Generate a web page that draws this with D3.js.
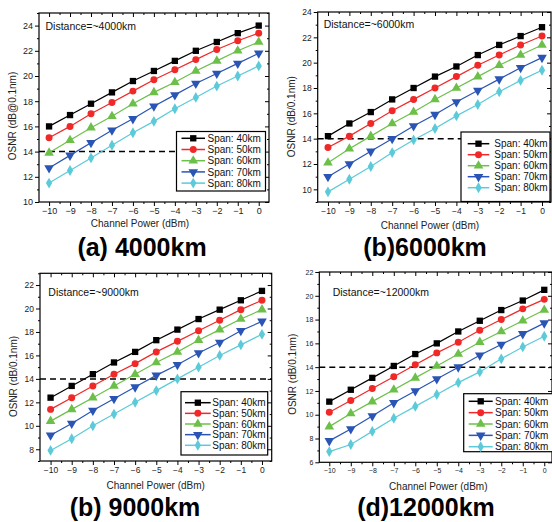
<!DOCTYPE html>
<html>
<head>
<meta charset="utf-8">
<script src="https://cdn.jsdelivr.net/npm/d3@7"></script>
<style>
  body { margin: 0; background: #fff; }
  text { font-family: "Liberation Sans", Arial, sans-serif; }
</style>
</head>
<body>
<script>
// channel power (dBm), same for all four plots
var power = [-10, -9, -8, -7, -6, -5, -4, -3, -2, -1, 0];
var spanNames = ["Span: 40km", "Span: 50km", "Span: 60km", "Span: 70km", "Span: 80km"];
var spanColors = ["#000000", "#f02828", "#6cc04a", "#2a55b4", "#5ccad8"];

// OSNR values per span (40,50,60,70,80 km)
var osnr4000 = [
  [16.0, 16.9, 17.8, 18.7, 19.6, 20.4, 21.2, 22.0, 22.7, 23.4, 24.0],
  [15.1, 16.0, 17.0, 17.9, 18.8, 19.7, 20.5, 21.3, 22.1, 22.8, 23.4],
  [13.9, 14.9, 15.9, 16.8, 17.8, 18.7, 19.5, 20.4, 21.2, 22.0, 22.7],
  [12.7, 13.7, 14.7, 15.7, 16.6, 17.6, 18.5, 19.4, 20.2, 21.0, 21.8],
  [11.5, 12.5, 13.5, 14.5, 15.5, 16.4, 17.4, 18.3, 19.2, 20.0, 20.8]
];
var osnr6000 = [
  [14.2, 15.2, 16.1, 17.1, 18.0, 18.9, 19.7, 20.6, 21.4, 22.1, 22.8],
  [13.3, 14.2, 15.2, 16.2, 17.1, 18.0, 18.9, 19.8, 20.6, 21.4, 22.1],
  [12.1, 13.2, 14.2, 15.2, 16.1, 17.1, 18.0, 18.9, 19.8, 20.6, 21.4],
  [11.0, 12.0, 13.0, 14.0, 15.0, 15.9, 16.9, 17.8, 18.7, 19.6, 20.4],
  [9.8, 10.8, 11.8, 12.9, 13.9, 14.8, 15.8, 16.7, 17.7, 18.6, 19.4]
];
var osnr9000 = [
  [12.4, 13.4, 14.4, 15.4, 16.3, 17.3, 18.2, 19.1, 19.9, 20.7, 21.5],
  [11.4, 12.4, 13.4, 14.4, 15.3, 16.3, 17.2, 18.1, 19.0, 19.9, 20.7],
  [10.4, 11.4, 12.4, 13.4, 14.4, 15.4, 16.3, 17.3, 18.2, 19.1, 19.9],
  [9.2, 10.2, 11.3, 12.3, 13.3, 14.3, 15.2, 16.2, 17.1, 18.1, 18.9],
  [7.9, 8.9, 10.0, 11.0, 12.0, 13.0, 14.0, 15.0, 16.0, 16.9, 17.8]
];
var osnr12000 = [
  [11.1, 12.1, 13.1, 14.1, 15.1, 16.0, 17.0, 17.9, 18.8, 19.6, 20.5],
  [10.2, 11.2, 12.2, 13.2, 14.2, 15.2, 16.1, 17.1, 18.0, 18.9, 19.7],
  [9.0, 10.1, 11.1, 12.1, 13.1, 14.1, 15.1, 16.1, 17.0, 17.9, 18.8],
  [7.8, 8.8, 9.9, 11.0, 12.0, 13.0, 14.0, 15.0, 15.9, 16.8, 17.7],
  [6.9, 7.5, 8.6, 9.7, 10.7, 11.7, 12.7, 13.6, 14.7, 15.7, 16.6]
];

var yTicks4000 = [10, 12, 14, 16, 18, 20, 22, 24];
var yTicks6000 = [10, 12, 14, 16, 18, 20, 22, 24];
var yTicks9000 = [8, 10, 12, 14, 16, 18, 20, 22];
var yTicks12000 = [6, 8, 10, 12, 14, 16, 18, 20, 22];

var threshold = 14;

var panels = [
  {data: osnr4000, yTicks: yTicks4000, yDom: [10, 25], xDom: [-10.48, 0.49],
   L: 39, R: 269, T: 13, B: 202, tickFont: 9,
   dist: "Distance=~4000km", distX: 45.5, distY: 30,
   yTitle: "OSNR (dB@0.1nm)", yTitleX: 12.5, yTitleY: 116,
   xTitleX: 140, xTitleY: 227,
   leg: {x: 176.5, y: 131.5, w: 89, h: 59.5, y0: 138.3, dy: 11.2, l0: 181.5, l1: 205, tx: 207.5},
   title: "(a) 4000km", titleX: 142, titleY: 255.5},
  {data: osnr6000, yTicks: yTicks6000, yDom: [9, 24], xDom: [-10.48, 0.42],
   L: 317.7, R: 551, T: 12, B: 202, tickFont: 8.5,
   dist: "Distance=~6000km", distX: 323.7, distY: 27.5,
   yTitle: "OSNR (dB/0.1nm)", yTitleX: 291, yTitleY: 116.7,
   xTitleX: 430, xTitleY: 229,
   leg: {x: 461, y: 132, w: 89, h: 69.5, y0: 143.7, dy: 11, l0: 467.7, l1: 489.3, tx: 494.3},
   title: "(b)6000km", titleX: 425, titleY: 255.5},
  {data: osnr9000, yTicks: yTicks9000, yDom: [7, 23], xDom: [-10.5, 0.46],
   L: 40, R: 271.7, T: 273.3, B: 461, tickFont: 8.5,
   dist: "Distance=~9000km", distX: 48.3, distY: 295.5,
   yTitle: "OSNR (dB/0.1nm)", yTitleX: 13.3, yTitleY: 376.5,
   xTitleX: 155.7, xTitleY: 489,
   leg: {x: 181, y: 391.7, w: 86.7, h: 63.3, y0: 402.7, dy: 10.65, l0: 185, l1: 210.7, tx: 212.3},
   title: "(b) 9000km", titleX: 135, titleY: 515.5},
  {data: osnr12000, yTicks: yTicks12000, yDom: [6, 22], xDom: [-10.465, 0.36],
   L: 319.3, R: 552, T: 272, B: 462.3, tickFont: 7,
   dist: "Distance=~12000km", distX: 332.7, distY: 296,
   yTitle: "OSNR (dB/0.1nm)", yTitleX: 292.7, yTitleY: 374.3,
   xTitleX: 438.3, xTitleY: 489.5,
   leg: {x: 463.7, y: 393.7, w: 90, h: 58, y0: 401.3, dy: 11.35, l0: 468.7, l1: 492.7, tx: 495},
   title: "(d)12000km", titleX: 426, titleY: 515.5}
];

var symbols = [
  d3.symbol().type(d3.symbolSquare).size(40),
  d3.symbol().type(d3.symbolCircle).size(38),
  d3.symbol().type(d3.symbolTriangle).size(40),
  d3.symbol().type(d3.symbolTriangle).size(40),
  d3.symbol().type(d3.symbolDiamond).size(34)
];
var symbolRot = [0, 0, 0, 180, 0];

var svg = d3.select("body").append("svg")
  .attr("width", 552).attr("height", 522);

function drawPanel(p) {
  var g = svg.append("g");
  var x = d3.scaleLinear().domain(p.xDom).range([p.L, p.R]);
  var y = d3.scaleLinear().domain(p.yDom).range([p.B, p.T]);

  var xMinor = power.slice(1).map(function(v) { return v - 0.5; });
  var yMinor = p.yTicks.map(function(v) { return v + 1; })
    .filter(function(v) { return v <= p.yDom[1]; });
  if (p.yTicks[0] - 1 >= p.yDom[0]) yMinor.push(p.yTicks[0] - 1);

  // axes: major + minor ticks on all four sides
  var axes = [
    [d3.axisBottom(x).tickValues(power).tickSize(4).tickPadding(2), "translate(0," + p.B + ")", true],
    [d3.axisBottom(x).tickValues(xMinor).tickSize(2).tickFormat(""), "translate(0," + p.B + ")", false],
    [d3.axisTop(x).tickValues(power).tickSize(-4).tickFormat(""), "translate(0," + p.T + ")", false],
    [d3.axisTop(x).tickValues(xMinor).tickSize(-2).tickFormat(""), "translate(0," + p.T + ")", false],
    [d3.axisLeft(y).tickValues(p.yTicks).tickSize(4).tickPadding(2), "translate(" + p.L + ",0)", true],
    [d3.axisLeft(y).tickValues(yMinor).tickSize(2).tickFormat(""), "translate(" + p.L + ",0)", false],
    [d3.axisRight(y).tickValues(p.yTicks).tickSize(-4).tickFormat(""), "translate(" + p.R + ",0)", false],
    [d3.axisRight(y).tickValues(yMinor).tickSize(-2).tickFormat(""), "translate(" + p.R + ",0)", false]
  ];
  axes.forEach(function(a) {
    var ag = g.append("g").attr("transform", a[1]).call(a[0].tickSizeOuter(0));
    ag.select(".domain").remove();
    ag.selectAll("line").attr("stroke", "#000").attr("stroke-width", 1);
    if (a[2]) {
      ag.selectAll("text")
        .style("font-family", "'Liberation Sans', Arial, sans-serif")
        .style("font-size", p.tickFont + "px")
        .attr("fill", "#222");
    }
  });

  // frame
  g.append("rect")
    .attr("x", p.L).attr("y", p.T)
    .attr("width", p.R - p.L).attr("height", p.B - p.T)
    .attr("fill", "none").attr("stroke", "#000").attr("stroke-width", 1.2);

  // threshold line
  g.append("line")
    .attr("x1", p.L).attr("x2", p.R)
    .attr("y1", y(threshold)).attr("y2", y(threshold))
    .attr("stroke", "#000").attr("stroke-width", 1.5)
    .attr("stroke-dasharray", "6,4");

  var line = d3.line()
    .x(function(d, i) { return x(power[i]); })
    .y(function(d) { return y(d); });

  p.data.forEach(function(series, s) {
    g.append("path").datum(series)
      .attr("d", line)
      .attr("fill", "none")
      .attr("stroke", spanColors[s])
      .attr("stroke-width", 1.2);
    g.selectAll(".m" + s).data(series).enter().append("path")
      .attr("d", symbols[s])
      .attr("transform", function(d, i) {
        return "translate(" + x(power[i]) + "," + y(d) + ") rotate(" + symbolRot[s] + ")";
      })
      .attr("fill", spanColors[s]);
  });

  // legend
  var lg = p.leg;
  g.append("rect")
    .attr("x", lg.x).attr("y", lg.y).attr("width", lg.w).attr("height", lg.h)
    .attr("fill", "#fff").attr("stroke", "#000").attr("stroke-width", 1.2);
  spanNames.forEach(function(name, s) {
    var ly = lg.y0 + s * lg.dy;
    g.append("line")
      .attr("x1", lg.l0).attr("x2", lg.l1).attr("y1", ly).attr("y2", ly)
      .attr("stroke", spanColors[s]).attr("stroke-width", 1.5);
    g.append("path")
      .attr("d", symbols[s])
      .attr("transform", "translate(" + (lg.l0 + lg.l1) / 2 + "," + ly + ") rotate(" + symbolRot[s] + ")")
      .attr("fill", spanColors[s]);
    g.append("text")
      .attr("x", lg.tx).attr("y", ly + 3.6)
      .attr("font-size", "10px").attr("fill", "#111")
      .text(name);
  });

  // text
  g.append("text").attr("x", p.distX).attr("y", p.distY)
    .attr("font-size", "10.5px").attr("fill", "#111").text(p.dist);
  g.append("text").attr("x", p.xTitleX).attr("y", p.xTitleY)
    .attr("text-anchor", "middle").attr("font-size", "10px").attr("fill", "#222")
    .text("Channel Power (dBm)");
  g.append("text")
    .attr("transform", "translate(" + p.yTitleX + "," + p.yTitleY + ") rotate(-90)")
    .attr("text-anchor", "middle").attr("dy", "0.35em")
    .attr("font-size", "10px").attr("fill", "#222")
    .text(p.yTitle);
  g.append("text").attr("x", p.titleX).attr("y", p.titleY)
    .attr("text-anchor", "middle").attr("font-size", "25px").attr("font-weight", "bold")
    .attr("fill", "#000").text(p.title);
}

panels.forEach(drawPanel);
</script>
</body>
</html>
